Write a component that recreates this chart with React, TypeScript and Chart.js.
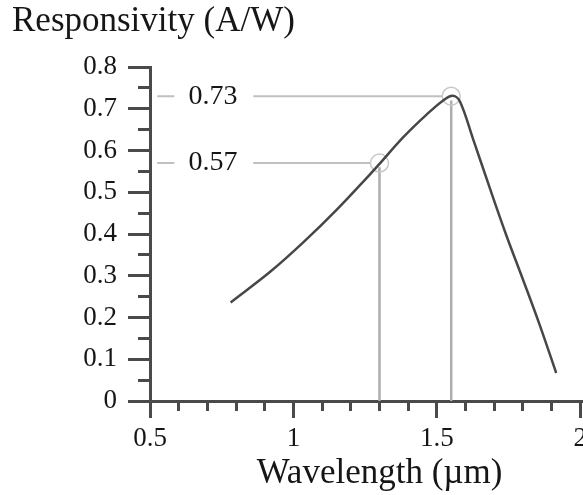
import React, { useEffect, useRef } from 'react';
import { Chart, registerables } from 'chart.js';

Chart.register(...registerables);

// ---- data ----
const curveWavelength = [0.781, 0.92, 1.036, 1.152, 1.267, 1.3, 1.383, 1.464, 1.522, 1.555, 1.58, 1.626, 1.684, 1.742, 1.8, 1.858, 1.916];
const curveResponsivity = [0.236, 0.31, 0.381, 0.459, 0.543, 0.568, 0.632, 0.686, 0.72, 0.731, 0.718, 0.628, 0.511, 0.397, 0.291, 0.183, 0.067];

const markerWavelength = [1.3, 1.55];
const markerResponsivity = [0.57, 0.73];
const markerLabels = ['0.57', '0.73'];

// guide-line extents (in wavelength units)
const guideStart = 0.525;
const labelGapStart = 0.585;
const labelGapEnd = 0.86;
const labelCenter = 0.72;
const guideEndGap = 0.032;

const xTickValues = [0.5, 1, 1.5, 2];
const xTickLabels = ['0.5', '1', '1.5', '2'];
const yTickValues = [0, 0.1, 0.2, 0.3, 0.4, 0.5, 0.6, 0.7, 0.8];
const yTickLabels = ['0', '0.1', '0.2', '0.3', '0.4', '0.5', '0.6', '0.7', '0.8'];

const FAMILY = '"Liberation Serif", "Times New Roman", serif';
const TEXT = '#161616';
const AXIS = '#4a4a4a';
const GUIDE = '#c0c0c0';
const VGUIDE = '#adadad';

const markerLabelPlugin = {
  id: 'markerLabels',
  afterDatasetsDraw(chart: any) {
    const { ctx, scales } = chart;
    const x = scales.x;
    const y = scales.y;
    ctx.save();
    ctx.font = `28px ${FAMILY}`;
    ctx.fillStyle = TEXT;
    ctx.textAlign = 'center';
    ctx.textBaseline = 'middle';
    markerLabels.forEach((t, i) => {
      ctx.fillText(t, x.getPixelForValue(labelCenter), y.getPixelForValue(markerResponsivity[i]));
    });
    ctx.restore();
  },
};

export default function App() {
  const ref = useRef<HTMLCanvasElement | null>(null);

  useEffect(() => {
    if (!ref.current) return;

    const guideSets: any[] = [];
    markerWavelength.forEach((mx, i) => {
      const my = markerResponsivity[i];
      guideSets.push({
        type: 'line',
        data: [
          { x: guideStart, y: my },
          { x: labelGapStart, y: my },
          { x: labelCenter, y: null },
          { x: labelGapEnd, y: my },
          { x: mx - guideEndGap, y: my },
        ],
        borderColor: GUIDE,
        borderWidth: 2,
        pointRadius: 0,
        spanGaps: false,
        tension: 0,
        order: 3,
      });
      guideSets.push({
        type: 'line',
        data: [
          { x: mx, y: 0 },
          { x: mx, y: my - 0.01 },
        ],
        borderColor: VGUIDE,
        borderWidth: 2.5,
        pointRadius: 0,
        tension: 0,
        order: 3,
      });
    });

    const chart = new Chart(ref.current, {
      type: 'line',
      data: {
        datasets: [
          ...guideSets,
          {
            type: 'line',
            data: markerWavelength.map((x, i) => ({ x, y: markerResponsivity[i] })),
            showLine: false,
            pointRadius: 9,
            pointBorderWidth: 1.5,
            pointBorderColor: '#c8c8c8',
            pointBackgroundColor: 'rgba(0,0,0,0)',
            order: 2,
          },
          {
            type: 'line',
            data: curveWavelength.map((x, i) => ({ x, y: curveResponsivity[i] })),
            borderColor: '#474747',
            borderWidth: 2.5,
            pointRadius: 0,
            tension: 0.35,
            order: 1,
          },
        ],
      },
      options: {
        responsive: false,
        animation: false,
        events: [],
        layout: { padding: { left: 12, right: 11, top: 0, bottom: 0 } },
        plugins: {
          legend: { display: false },
          tooltip: { enabled: false },
          title: {
            display: true,
            text: 'Responsivity (A/W)',
            align: 'start',
            color: TEXT,
            font: { family: FAMILY, size: 35, weight: 'normal', lineHeight: 1.2 },
            padding: { top: 1, bottom: 24 },
          },
        },
        scales: {
          x: {
            type: 'linear',
            position: 'bottom',
            min: 0.5,
            max: 2.1,
            afterBuildTicks: (s: any) => {
              s.ticks = xTickValues.map((v) => ({ value: v }));
            },
            afterFit: (s: any) => {
              s.height = 94;
            },
            ticks: {
              callback: (_v: any, i: number) => xTickLabels[i],
              color: TEXT,
              font: { family: FAMILY, size: 27 },
              padding: 5,
              autoSkip: false,
              maxRotation: 0,
            },
            grid: { drawOnChartArea: false, tickLength: 17, tickWidth: 3, tickColor: AXIS },
            border: { display: true, color: AXIS, width: 3 },
            title: {
              display: true,
              text: 'Wavelength (µm)',
              color: TEXT,
              font: { family: FAMILY, size: 35, lineHeight: 1.2 },
              padding: { top: 0, bottom: 0 },
            },
          },
          x2: {
            type: 'linear',
            position: { y: 0 },
            min: 0.5,
            max: 2.1,
            ticks: { stepSize: 0.1, display: false },
            grid: { drawOnChartArea: false, tickLength: 10, tickWidth: 3, tickColor: AXIS },
            border: { display: false },
          },
          y: {
            type: 'linear',
            position: 'left',
            min: 0,
            max: 0.8,
            afterBuildTicks: (s: any) => {
              s.ticks = yTickValues.map((v) => ({ value: v }));
            },
            afterFit: (s: any) => {
              s.width = 138;
            },
            ticks: {
              callback: (_v: any, i: number) => yTickLabels[i],
              color: TEXT,
              font: { family: FAMILY, size: 27 },
              padding: 11,
              autoSkip: false,
            },
            grid: { drawOnChartArea: false, tickLength: 22, tickWidth: 3, tickColor: AXIS },
            border: { display: true, color: AXIS, width: 3 },
          },
          y2: {
            type: 'linear',
            position: { x: 0.5 },
            min: 0,
            max: 0.8,
            ticks: { stepSize: 0.05, display: false },
            grid: { drawOnChartArea: false, tickLength: 12, tickWidth: 3, tickColor: AXIS },
            border: { display: false },
          },
        },
      } as any,
      plugins: [markerLabelPlugin],
    } as any);

    return () => chart.destroy();
  }, []);

  return (
    <div
      style={{
        position: 'absolute',
        left: 0,
        top: 0,
        width: 583,
        height: 495,
        overflow: 'hidden',
        background: '#ffffff',
      }}
    >
      <canvas ref={ref} width={620} height={495} style={{ display: 'block' }} />
    </div>
  );
}
